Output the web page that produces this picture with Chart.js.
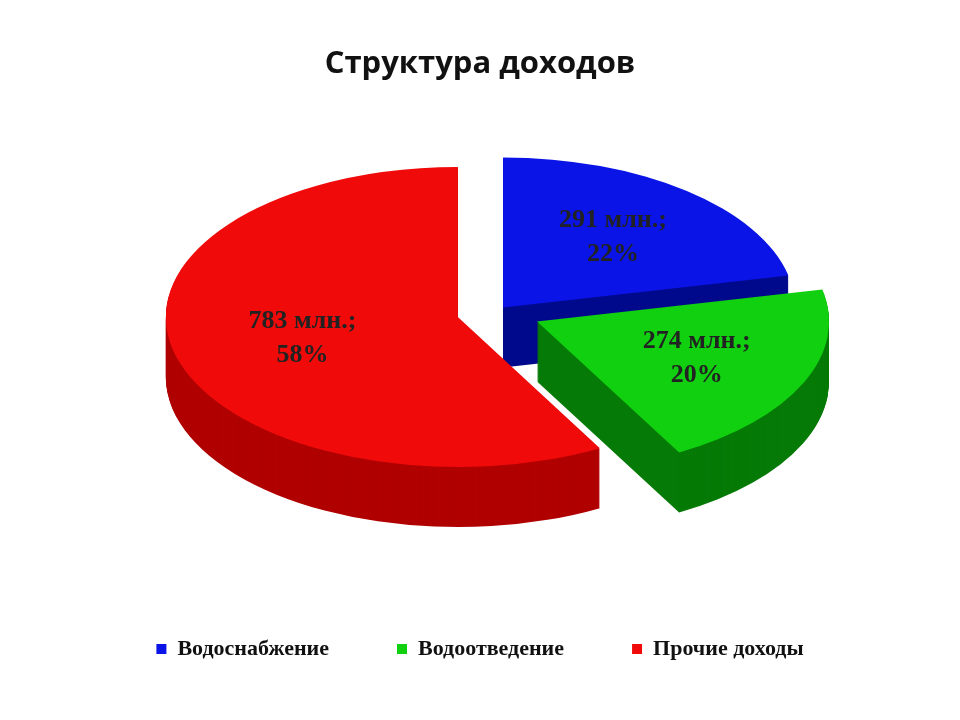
<!DOCTYPE html>
<html><head><meta charset="utf-8">
<script src="https://cdn.jsdelivr.net/npm/chart.js@4.4.0/dist/chart.umd.min.js"></script>
<style>html,body{margin:0;background:#fff}#w{width:960px;height:720px}</style>
</head><body><div id="w"><canvas id="c"></canvas></div>
<script>
const categories = ["Водоснабжение", "Водоотведение", "Прочие доходы"];
const amounts = [291, 274, 783];
const percents = [22, 20, 58];
const colors = ["#0a14e6", "#10d010", "#f00a0a"];
const sideColors = ["#000a8c", "#067a06", "#b00000"];
const offsets = [8, 32, 28];

const RX = 292, RY = 150, CYT = 312, DEPTH = 60;
function tf(chart){
  const m = chart.getDatasetMeta(0).data[0];
  const R = m.outerRadius;
  return {cx:m.x + 16, cy:m.y, sx:RX/R, sy:RY/R};
}
function arcPath(ctx, el, i, dy){
  const off = offsets[i];
  const mid = (el.startAngle + el.endAngle)/2;
  const x = el.x + Math.cos(mid)*off, y = el.y + Math.sin(mid)*off + dy;
  ctx.beginPath();
  ctx.moveTo(x,y);
  ctx.arc(x,y,el.outerRadius,el.startAngle,el.endAngle);
  ctx.closePath();
}
const pie3d = {
  id:'pie3d',
  beforeDatasetsDraw(chart){
    const ctx = chart.ctx, t = tf(chart);
    const m = chart.getDatasetMeta(0).data[0];
    ctx.save();
    ctx.translate(t.cx, CYT); ctx.scale(t.sx, t.sy); ctx.translate(-m.x, -t.cy);
    const els = chart.getDatasetMeta(0).data;
    for (let d = DEPTH; d > 0; d -= 1) {
      els.forEach((el,i)=>{
        arcPath(ctx, el, i, d/t.sy);
        ctx.fillStyle = sideColors[i];
        ctx.fill();
      });
    }
    els.forEach((el,i)=>{
      arcPath(ctx, el, i, 0);
      ctx.fillStyle = colors[i]; ctx.fill();
    });
    ctx.restore();
    return false;
  },
  afterDraw(chart){
    const ctx = chart.ctx, t = tf(chart);
    const els = chart.getDatasetMeta(0).data;
    const rf = [0.6, 0.6, 0.55];
    ctx.save();
    ctx.font = 'bold 26px "Liberation Serif"';
    ctx.fillStyle = '#222'; ctx.textAlign = 'center'; ctx.textBaseline = 'middle';
    els.forEach((el,i)=>{
      const mid = (el.startAngle + el.endAngle)/2;
      const r = el.outerRadius*rf[i] + offsets[i];
      const px = Math.cos(mid)*r, py = Math.sin(mid)*r;
      const X = t.cx + t.sx*px, Y = CYT + t.sy*py;
      ctx.fillText(amounts[i] + ' млн.;', X, Y - 17);
      ctx.fillText(percents[i] + '%', X, Y + 17);
    });
    ctx.restore();
  }
};
new Chart(document.getElementById('c'), {
  type:'pie',
  data:{labels:categories, datasets:[{data:amounts, backgroundColor:colors, borderWidth:0, offset:offsets}]},
  options:{
    responsive:true, maintainAspectRatio:false, animation:false,
    layout:{padding:{top:10,bottom:50,left:20,right:20}},
    plugins:{
      title:{display:true, text:'Структура доходов', color:'#111',
        font:{family:'"Open Sans"', size:31, weight:'bold'}, padding:{top:36,bottom:40}},
      legend:{position:'bottom', labels:{boxWidth:10, boxHeight:10, padding:68, color:'#111',
        font:{family:'"Liberation Serif"', size:22, weight:'bold'}}},
      tooltip:{enabled:false}
    }
  },
  plugins:[pie3d]
});
</script></body></html>
